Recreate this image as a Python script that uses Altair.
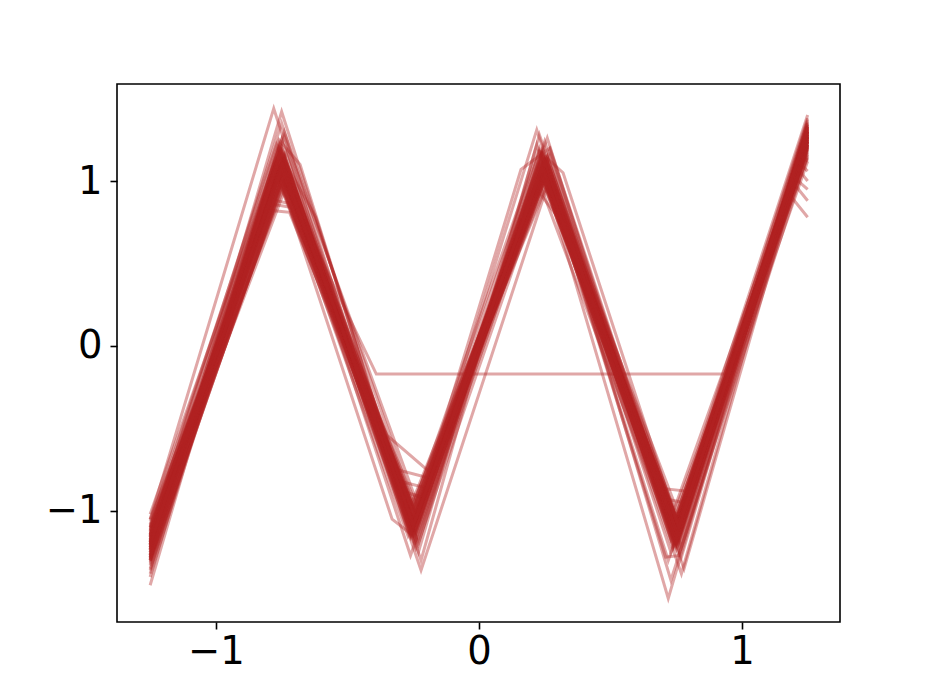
import altair as alt
import pandas as pd

# ---- main lines: vertices (x=-1.25, peak1, trough1, peak2, trough2, x=1.25)
START_Y = [-1.12, -1.25, -1.31, -1.08, -1.20, -1.36, -1.15, -1.28, -1.02, -1.22, -1.33, -1.18,
           -1.10, -1.27, -1.40, -1.16, -1.23, -1.06, -1.30, -1.19, -1.35, -1.13, -1.26, -1.21,
           -1.09, -1.29, -1.17, -1.38, -1.24, -1.14, -1.32, -1.20, -1.45, -1.11, -1.27, -1.22,
           -1.18, -1.24, -1.21, -1.15, -1.28, -1.19, -1.23, -1.12, -1.26, -1.20, -1.17, -1.25,
           -1.22, -1.14, -1.29, -1.19, -1.23, -1.16, -1.27, -1.21]
PEAK1_X = [-0.76, -0.74, -0.75, -0.77, -0.73, -0.75, -0.76, -0.74, -0.78, -0.75, -0.73, -0.76,
           -0.75, -0.74, -0.77, -0.75, -0.76, -0.73, -0.75, -0.74, -0.76, -0.75, -0.77, -0.74,
           -0.75, -0.76, -0.73, -0.75, -0.74, -0.76, -0.75, -0.77, -0.76, -0.74, -0.75, -0.76,
           -0.75, -0.76, -0.74, -0.75, -0.75, -0.76, -0.74, -0.75, -0.76, -0.75, -0.74, -0.75,
           -0.76, -0.75, -0.74, -0.75, -0.76, -0.75, -0.74, -0.75]
PEAK1_Y = [1.08, 1.15, 1.02, 1.22, 0.98, 1.12, 1.05, 1.30, 1.10, 0.95, 1.18, 1.07,
           1.25, 1.00, 1.13, 1.04, 1.20, 1.09, 0.97, 1.16, 1.11, 1.35, 1.03, 1.14,
           1.06, 1.19, 1.01, 1.10, 1.27, 1.08, 0.99, 1.12, 1.23, 1.05, 1.17, 1.21,
           1.10, 1.06, 1.14, 1.09, 1.18, 1.03, 1.12, 1.07, 1.15, 1.11, 1.04, 1.13,
           1.08, 1.20, 1.05, 1.10, 1.16, 1.02, 1.12, 1.09]
TROUGH1_X = [-0.24, -0.26, -0.25, -0.23, -0.25, -0.24, -0.27, -0.25, -0.23, -0.26, -0.24, -0.25,
             -0.22, -0.25, -0.24, -0.26, -0.25, -0.23, -0.24, -0.25, -0.26, -0.24, -0.23, -0.25,
             -0.24, -0.22, -0.25, -0.26, -0.24, -0.25, -0.23, -0.24, -0.25, -0.26, -0.24, -0.25,
             -0.25, -0.24, -0.25, -0.26, -0.24, -0.25, -0.25, -0.24, -0.26, -0.25, -0.24, -0.25,
             -0.25, -0.24, -0.26, -0.25, -0.24, -0.25, -0.25, -0.24]
TROUGH1_Y = [-1.05, -1.12, -0.98, -1.20, -1.02, -1.08, -1.15, -0.95, -1.25, -1.04, -1.10, -1.00,
             -1.30, -1.07, -1.13, -0.97, -1.18, -1.06, -1.01, -1.14, -1.09, -1.22, -0.99, -1.11,
             -1.03, -1.36, -1.08, -1.16, -0.93, -1.05, -1.19, -1.02, -1.12, -1.27, -1.06, -1.10,
             -1.08, -1.13, -1.04, -1.10, -1.16, -1.06, -1.11, -1.02, -1.14, -1.09, -1.18, -1.07,
             -1.12, -1.05, -1.15, -1.10, -1.03, -1.13, -1.08, -1.11]
PEAK2_X = [0.24, 0.25, 0.26, 0.23, 0.25, 0.24, 0.27, 0.25, 0.22, 0.26, 0.24, 0.25,
           0.23, 0.26, 0.25, 0.24, 0.27, 0.25, 0.23, 0.24, 0.26, 0.25, 0.24, 0.22,
           0.25, 0.26, 0.24, 0.25, 0.23, 0.27, 0.25, 0.24, 0.26, 0.25, 0.23, 0.24,
           0.25, 0.24, 0.25, 0.26, 0.25, 0.24, 0.25, 0.26, 0.24, 0.25, 0.25, 0.24,
           0.26, 0.25, 0.24, 0.25, 0.26, 0.25, 0.24, 0.25]
PEAK2_Y = [1.05, 1.12, 0.98, 1.18, 1.02, 1.08, 1.15, 1.00, 1.22, 1.06, 1.10, 0.96,
           1.28, 1.04, 1.13, 1.01, 1.19, 1.07, 0.99, 1.14, 1.09, 1.24, 1.03, 1.31,
           1.11, 0.97, 1.16, 1.05, 1.20, 1.08, 1.02, 1.12, 1.26, 1.06, 1.10, 1.17,
           1.08, 1.12, 1.05, 1.15, 1.10, 1.03, 1.13, 1.07, 1.18, 1.09, 1.06, 1.14,
           1.11, 1.04, 1.16, 1.08, 1.12, 1.02, 1.10, 1.13]
TROUGH2_X = [0.74, 0.76, 0.75, 0.73, 0.77, 0.75, 0.74, 0.76, 0.72, 0.75, 0.77, 0.74,
             0.76, 0.75, 0.73, 0.75, 0.76, 0.74, 0.78, 0.75, 0.74, 0.76, 0.75, 0.73,
             0.75, 0.77, 0.74, 0.76, 0.75, 0.74, 0.72, 0.76, 0.75, 0.74, 0.77, 0.75,
             0.75, 0.74, 0.76, 0.75, 0.75, 0.74, 0.75, 0.76, 0.75, 0.74, 0.75, 0.76,
             0.75, 0.75, 0.74, 0.76, 0.75, 0.74, 0.75, 0.76]
TROUGH2_Y = [-1.10, -1.18, -1.05, -1.25, -1.12, -1.02, -1.20, -1.15, -1.30, -1.08, -1.22, -1.00,
             -1.16, -1.13, -1.42, -1.06, -1.19, -1.11, -1.35, -1.09, -1.14, -1.24, -1.04, -1.17,
             -1.12, -1.28, -1.07, -1.21, -0.98, -1.15, -1.53, -1.10, -1.23, -1.13, -1.38, -1.18,
             -1.13, -1.17, -1.09, -1.20, -1.12, -1.15, -1.07, -1.18, -1.11, -1.22, -1.14, -1.10,
             -1.16, -1.08, -1.19, -1.13, -1.21, -1.12, -1.17, -1.15]
END_Y = [1.22, 1.30, 1.15, 1.35, 1.25, 1.18, 1.32, 1.27, 1.12, 1.38, 1.20, 1.28,
         1.24, 1.33, 1.16, 1.29, 1.21, 1.36, 1.26, 1.19, 1.31, 1.23, 1.40, 1.17,
         1.27, 1.34, 1.22, 1.30, 1.14, 1.25, 1.37, 1.20, 1.29, 1.24, 1.32, 1.26,
         1.27, 1.31, 1.24, 1.34, 1.28, 1.22, 1.30, 1.26, 1.33, 1.25, 1.29, 1.23,
         1.32, 1.27, 1.35, 1.24, 1.30, 1.28, 1.21, 1.31]

# ---- irregular lines (outliers, chords, shoulders, end hooks)
EXTRA_X = [
    [-1.25, -0.76, -0.39, 0.935, 1.25],
    [-1.25, -0.78, -0.27, 0.25, 0.74, 1.25],
    [-1.25, -0.75, -0.24, 0.24, 0.75, 1.25],
    [-1.25, -0.74, -0.35, -0.19, 0.25, 0.76, 1.25],
    [-1.25, -0.75, -0.31, -0.19, 0.26, 0.74, 1.25],
    [-1.25, -0.76, -0.30, -0.20, 0.24, 0.75, 1.25],
    [-1.25, -0.75, -0.29, -0.21, 0.25, 0.76, 1.25],
    [-1.25, -0.77, -0.33, -0.25, 0.25, 0.75, 1.25],
    [-1.25, -0.79, -0.71, -0.25, 0.25, 0.75, 1.25],
    [-1.25, -0.78, -0.72, -0.24, 0.24, 0.74, 1.25],
    [-1.25, -0.77, -0.71, -0.26, 0.26, 0.75, 1.25],
    [-1.25, -0.76, -0.68, -0.25, 0.25, 0.75, 1.25],
    [-1.25, -0.75, -0.62, -0.25, 0.24, 0.76, 1.25],
    [-1.25, -0.75, -0.25, 0.16, 0.27, 0.75, 1.25],
    [-1.25, -0.74, -0.24, 0.23, 0.32, 0.76, 1.25],
    [-1.25, -0.75, -0.25, 0.22, 0.31, 0.75, 1.25],
    [-1.25, -0.75, -0.25, 0.25, 0.68, 0.79, 1.25],
    [-1.25, -0.76, -0.24, 0.24, 0.69, 0.78, 1.25],
    [-1.25, -0.74, -0.26, 0.26, 0.70, 0.77, 1.25],
    [-1.25, -0.75, -0.25, 0.25, 0.71, 0.76, 1.25],
    [-1.25, -0.75, -0.25, 0.25, 0.75, 1.19, 1.25],
    [-1.25, -0.76, -0.24, 0.24, 0.74, 1.20, 1.25],
    [-1.25, -0.74, -0.25, 0.26, 0.76, 1.20, 1.25],
    [-1.25, -0.75, -0.26, 0.25, 0.75, 1.21, 1.25],
    [-1.25, -0.75, -0.24, 0.25, 0.74, 1.21, 1.25],
    [-1.25, -0.76, -0.25, 0.24, 0.76, 1.22, 1.25],
]
EXTRA_Y = [
    [-1.18, 1.06, -0.17, -0.17, 1.24],
    [-1.05, 1.44, -1.08, 1.12, -1.14, 1.28],
    [-1.30, 1.42, -1.12, 1.05, -1.20, 1.30],
    [-1.20, 1.10, -0.54, -0.76, 1.08, -1.15, 1.26],
    [-1.10, 1.05, -0.75, -0.80, 1.10, -1.10, 1.30],
    [-1.25, 1.12, -0.82, -0.86, 1.02, -1.18, 1.22],
    [-1.15, 1.00, -0.88, -0.92, 1.15, -1.08, 1.33],
    [-1.30, 1.08, -1.05, -1.15, 1.10, -1.12, 1.27],
    [-1.05, 0.86, 0.84, -1.10, 1.10, -1.10, 1.20],
    [-1.18, 0.82, 0.81, -1.05, 1.05, -1.15, 1.25],
    [-1.30, 0.88, 0.86, -1.00, 1.12, -1.20, 1.32],
    [-1.20, 1.25, 1.10, -1.10, 1.06, -1.12, 1.28],
    [-1.14, 1.15, 0.78, -1.10, 1.09, -1.16, 1.24],
    [-1.22, 1.10, -1.08, 1.07, 1.20, -1.12, 1.28],
    [-1.15, 1.05, -1.00, 1.18, 1.05, -1.10, 1.30],
    [-1.28, 1.12, -1.10, 0.95, 0.76, -1.18, 1.22],
    [-1.12, 1.08, -1.06, 1.10, -0.86, -0.88, 1.26],
    [-1.24, 1.14, -1.10, 1.04, -0.92, -0.95, 1.30],
    [-1.17, 1.02, -1.03, 1.12, -1.00, -1.02, 1.21],
    [-1.29, 1.18, -1.15, 1.07, -1.28, -1.27, 1.33],
    [-1.16, 1.09, -1.07, 1.06, -1.12, 0.90, 0.78],
    [-1.23, 1.13, -1.11, 1.10, -1.18, 0.98, 0.88],
    [-1.10, 1.04, -1.02, 1.14, -1.08, 1.02, 0.95],
    [-1.27, 1.20, -1.14, 1.03, -1.15, 1.08, 1.00],
    [-1.19, 1.07, -1.05, 1.12, -1.21, 1.12, 1.06],
    [-1.21, 1.16, -1.09, 1.08, -1.10, 1.16, 1.12],
]

rows = []
for i in range(len(START_Y)):
    xs = [-1.25, PEAK1_X[i], TROUGH1_X[i], PEAK2_X[i], TROUGH2_X[i], 1.25]
    ys = [START_Y[i], PEAK1_Y[i], TROUGH1_Y[i], PEAK2_Y[i], TROUGH2_Y[i], END_Y[i]]
    for k, (xv, yv) in enumerate(zip(xs, ys)):
        rows.append({"line": f"m{i}", "k": k, "x": xv, "y": yv})
for j, (xs, ys) in enumerate(zip(EXTRA_X, EXTRA_Y)):
    for k, (xv, yv) in enumerate(zip(xs, ys)):
        rows.append({"line": f"e{j}", "k": k, "x": xv, "y": yv})
df = pd.DataFrame(rows)

FONT = "DejaVu Sans"
chart = (
    alt.Chart(df)
    .mark_line(color="#b22222", opacity=0.4, strokeWidth=3, strokeJoin="miter")
    .encode(
        x=alt.X("x:Q", scale=alt.Scale(domain=[-1.376, 1.373], nice=False, zero=False),
                axis=alt.Axis(values=[-1, 0, 1], title=None, grid=False, domain=False,
                              format="d", tickColor="black", tickWidth=1.6, tickSize=7,
                              labelFont=FONT, labelFontSize=38.5, labelColor="black",
                              labelPadding=4)),
        y=alt.Y("y:Q", scale=alt.Scale(domain=[-1.673, 1.588], nice=False, zero=False),
                axis=alt.Axis(values=[-1, 0, 1], title=None, grid=False, domain=False,
                              format="d", tickColor="black", tickWidth=1.6, tickSize=7,
                              labelFont=FONT, labelFontSize=38.5, labelColor="black",
                              labelPadding=8)),
        detail="line:N",
        order="k:Q",
    )
    .properties(width=723, height=538,
                padding={"left": 109, "top": 76, "right": 80, "bottom": 60},
                autosize=alt.AutoSizeParams(type="none"))
    .configure(background="white")
    .configure_view(stroke="black", strokeWidth=1.6)
)

chart.save("out.html", embed_options={"renderer": "svg", "actions": False})
